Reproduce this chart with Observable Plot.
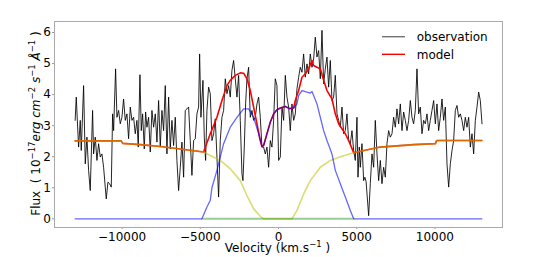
<!DOCTYPE html>
<html><head><meta charset="utf-8">
<script src="https://cdn.jsdelivr.net/npm/d3@7"></script>
<script src="https://cdn.jsdelivr.net/npm/@observablehq/plot@0.6"></script>
<style>body{margin:0;background:#fff;} #chart{width:538px;height:257px;}</style>
</head><body><div id="chart"></div>
<script>
// Observation (velocity km/s, flux)
const obsV = [-13000,-12929,-12780,-12673,-12609,-12460,-12353,-12247,-12140,-12034,-11885,-11821,-11714,-11608,-11501,-11394,-11288,-11181,-11075,-11011,-10904,-10798,-10691,-10606,-10542,-10414,-10329,-10222,-10116,-10009,-9903,-9796,-9689,-9583,-9476,-9370,-9263,-9157,-9050,-8965,-8858,-8773,-8688,-8581,-8496,-8411,-8304,-8197,-8091,-7984,-7878,-7771,-7665,-7558,-7452,-7345,-7239,-7132,-7025,-6919,-6812,-6706,-6599,-6493,-6386,-6279,-6173,-6066,-5960,-5853,-5747,-5640,-5534,-5427,-5320,-5214,-5107,-5043,-4958,-4830,-4745,-4660,-4574,-4468,-4361,-4255,-4148,-4042,-3935,-3829,-3722,-3615,-3509,-3402,-3296,-3189,-3083,-2976,-2869,-2763,-2656,-2550,-2443,-2337,-2273,-2187,-2102,-2017,-1910,-1804,-1697,-1591,-1484,-1377,-1271,-1164,-1058,-951,-845,-738,-632,-525,-418,-312,-205,-99,8,115,222,328,435,541,648,754,861,968,1074,1181,1287,1394,1500,1607,1713,1820,1927,2033,2140,2246,2353,2459,2566,2673,2779,2886,2992,3099,3205,3312,3418,3525,3632,3738,3845,3951,4058,4164,4271,4377,4484,4591,4697,4804,4910,5017,5081,5166,5230,5337,5443,5520,5600,5763,5869,5976,6083,6189,6296,6402,6509,6615,6722,6829,6935,7042,7148,7255,7361,7468,7574,7681,7788,7894,8001,8107,8214,8320,8427,8533,8640,8747,8853,8960,9066,9173,9279,9386,9493,9599,9706,9812,9919,10025,10132,10238,10345,10452,10558,10665,10771,10878,10984,11091,11197,11304,11411,11517,11624,11730,11837,11943,12050,12157,12263,12370,12476,12583,12689,12796,12902,13009];
const obsF = [3.17,3.92,2.31,3.17,2.20,4.29,1.77,2.63,1.56,0.91,3.49,2.09,2.63,1.88,2.42,1.99,2.09,1.66,1.02,0.64,1.18,1.13,1.02,3.38,2.84,4.83,3.27,3.49,3.06,3.27,3.86,3.17,3.38,2.58,3.60,3.17,3.27,2.74,3.17,2.31,4.64,2.84,3.38,2.25,3.44,2.95,3.27,2.15,3.49,2.95,3.38,2.47,3.81,2.31,3.49,2.84,4.29,2.09,3.92,2.25,3.17,2.36,3.27,1.88,0.91,1.66,2.47,1.34,3.49,3.54,3.60,2.52,1.40,2.52,2.58,3.38,3.60,5.31,3.27,4.46,2.63,1.88,3.49,4.24,4.03,2.52,2.74,3.22,1.99,0.70,2.52,3.27,3.49,4.51,4.03,4.29,3.92,4.78,5.10,4.51,3.92,4.62,3.17,1.45,1.23,2.31,3.70,4.51,4.88,3.27,3.49,3.17,3.27,3.70,3.92,3.27,2.31,2.31,2.09,2.31,1.66,2.52,2.31,3.17,4.51,4.29,1.88,1.99,3.60,3.17,4.62,3.92,3.60,2.84,3.70,3.17,3.38,4.19,4.56,4.88,4.72,5.31,4.56,4.99,4.67,5.31,4.88,5.15,5.85,5.21,5.42,4.51,6.07,4.35,4.83,5.21,4.24,5.10,3.81,3.92,4.62,3.38,3.17,2.95,3.60,2.74,2.84,3.38,2.52,2.42,2.84,2.20,1.88,3.27,1.34,2.31,1.66,2.42,1.23,1.34,1.20,0.10,1.13,2.09,1.66,3.17,2.09,1.23,1.88,1.13,1.66,1.34,2.42,2.84,2.63,2.74,3.27,2.95,3.54,3.06,3.70,2.84,3.44,3.17,2.84,3.17,3.81,3.27,3.06,3.49,4.83,3.38,3.60,2.74,3.17,3.06,3.38,2.84,3.17,3.49,3.81,3.06,3.70,2.84,3.27,3.86,3.17,3.60,1.77,1.02,1.77,2.20,2.52,3.49,3.65,3.27,3.38,3.17,2.84,3.27,2.95,3.27,2.31,2.74,2.09,3.17,3.60,4.08,3.81,3.06,3.49];

// Continuum (outside the line region)
const contLeftV = [-13000,-10060,-9960,-8837,-7558,-6279,-4790];
const contLeftF = [2.51,2.51,2.43,2.39,2.33,2.25,2.15];
const contRightV = [4804,6509,8640,10025,10110,13000];
const contRightF = [2.13,2.31,2.39,2.42,2.52,2.52];

// Model (inner part)
const modelV = [-4361,-3935,-3615,-3296,-3083,-2763,-2443,-2230,-2017,-1804,-1591,-1377,-1164,-1058,-951,-738,-525,-312,-99,115,434,700,968,1074,1287,1500,1713,1927,2140,2246,2459,2673,2886,3099,3418,3632,3845,4058,4271,4484];
const modelF = [2.74,3.27,3.81,4.29,4.46,4.62,4.70,4.69,4.51,4.13,3.60,3.06,2.52,2.33,2.36,2.74,3.11,3.38,3.51,3.57,3.62,3.55,3.57,3.81,4.13,4.56,4.67,4.83,5.10,4.94,4.88,4.83,4.46,4.13,3.86,3.38,3.06,2.90,2.74,2.52];

// Yellow component (inner part)
const yellowV = [-4361,-3722,-3083,-2443,-2017,-1591,-1164,-951,861,1181,1607,2033,2673,3312,3951];
const yellowF = [2.04,1.88,1.61,1.23,0.75,0.32,0.08,0.0,0.0,0.27,0.80,1.23,1.66,1.88,2.00];

// Blue component
const blueV = [-13000,-4894,-4574,-4361,-4255,-3935,-3509,-3083,-2656,-2230,-1910,-1591,-1270,-1058,-951,-738,-525,-312,-99,115,434,700,968,1181,1287,1500,1820,2033,2140,2246,2459,2673,2886,3099,3418,3632,3951,4271,4591,4804,13000];
const blueF = [0,0,0.38,0.60,1.00,1.56,2.42,2.95,3.27,3.54,3.54,3.27,2.74,2.33,2.36,2.74,3.11,3.38,3.51,3.57,3.62,3.55,3.57,3.70,3.97,4.13,4.08,4.05,4.10,3.97,3.70,3.27,2.84,2.52,2.09,1.56,1.13,0.70,0.27,0,0];

// Green component
const greenV = [-4894,4804];
const greenF = [0,0];

const xTicks = [-10000,-5000,0,5000,10000];
const yTicks = [0,1,2,3,4,5,6];

const rows = (vs, fs) => vs.map((v, i) => ({v, f: fs[i]}));
const obs = rows(obsV, obsF);
const model = rows(contLeftV, contLeftF).concat(rows(modelV, modelF), rows(contRightV, contRightF));
const yellow = rows(contLeftV, contLeftF).concat(rows(yellowV, yellowF), rows(contRightV, contRightF));
const blue = rows(blueV, blueF);
const green = rows(greenV, greenF);
const fmt = d3.format("d");

const plot = Plot.plot({
  width: 538, height: 257,
  marginLeft: 54, marginRight: 36, marginTop: 21, marginBottom: 30,
  style: {fontFamily: "DejaVu Sans", fontSize: "12px", background: "white", color: "black"},
  x: {domain: [-14320, 14320]},
  y: {domain: [-0.28, 6.355]},
  marks: [
    Plot.axisX({ticks: xTicks, tickFormat: () => "", tickSize: 2, label: null, stroke: "#999"}),
    Plot.axisY({ticks: yTicks, tickFormat: () => "", tickSize: 2, label: null, stroke: "#999"}),
    Plot.text(xTicks, {x: d => d, text: d => fmt(d), frameAnchor: "bottom", lineAnchor: "top", dy: 4.5, fontSize: 12, fill: "black"}),
    Plot.text(yTicks, {y: d => d, text: d => fmt(d), frameAnchor: "left", textAnchor: "end", lineAnchor: "middle", dx: -3.5, fontSize: 12, fill: "black"}),
    Plot.line(obs, {x: "v", y: "f", stroke: "black", strokeWidth: 1, strokeOpacity: 0.85}),
    Plot.line(model, {x: "v", y: "f", stroke: "#ff0000", strokeWidth: 1.6}),
    Plot.line(yellow, {x: "v", y: "f", stroke: "#bfbf00", strokeWidth: 1.6, strokeOpacity: 0.55}),
    Plot.line(blue, {x: "v", y: "f", stroke: "#0000ff", strokeWidth: 1.3, strokeOpacity: 0.6}),
    Plot.line(green, {x: "v", y: "f", stroke: "#008000", strokeWidth: 2, strokeOpacity: 0.4}),
    Plot.frame({stroke: "#aaa"})
  ]
});
document.getElementById("chart").appendChild(plot);

const svg = d3.select(plot);
// Y label
const yl = svg.append("text")
  .attr("transform", "translate(40,123.5) rotate(-90)")
  .attr("text-anchor", "middle")
  .attr("font-family", "DejaVu Sans").attr("font-size", 12).attr("fill", "black")
  .style("white-space", "pre");
const parts = [
  ["Flux  ( 10", "n"], ["\u221217", "s"], ["erg", "i"], [" cm", "i"], ["\u22122", "s"],
  [" s", "i"], ["\u22121", "s"], [" \u00c5", "i"], ["\u22121", "s"], [" )", "n"]
];
let prevSup = false;
parts.forEach(([t, k]) => {
  const ts = yl.append("tspan").text(t);
  if (k === "s") { ts.attr("font-size", 8.5).attr("dy", prevSup ? 0 : -5); prevSup = true; }
  else { if (prevSup) ts.attr("dy", 5); prevSup = false; if (k === "i") ts.attr("font-style", "italic"); }
});
// X label
const xl = svg.append("text")
  .attr("x", 277.5).attr("y", 251.5)
  .attr("text-anchor", "middle")
  .attr("font-family", "DejaVu Sans").attr("font-size", 12).attr("fill", "black")
  .style("white-space", "pre");
xl.append("tspan").text("Velocity (km.s");
xl.append("tspan").text("\u22121").attr("font-size", 8.5).attr("dy", -5);
xl.append("tspan").text(" )").attr("dy", 5);

// Legend
const leg = [["observation", "black", 0.55, 36.7], ["model", "#ff0000", 1, 54.3]];
leg.forEach(([label, color, op, y]) => {
  svg.append("line").attr("x1", 382).attr("x2", 405).attr("y1", y).attr("y2", y)
    .attr("stroke", color).attr("stroke-opacity", op).attr("stroke-width", 1.4);
  svg.append("text").attr("x", 416.7).attr("y", y + 4.3).attr("text-anchor", "start")
    .attr("font-family", "DejaVu Sans").attr("font-size", 12).attr("fill", "black").text(label);
});
</script>
</body></html>
